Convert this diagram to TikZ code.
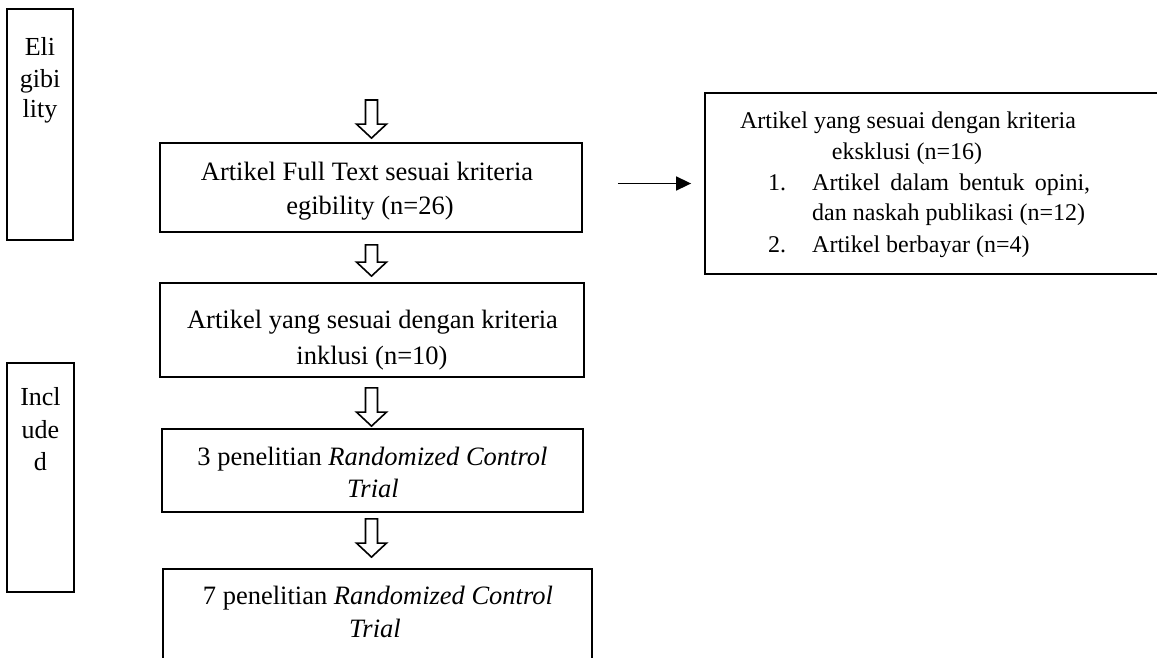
\documentclass[tikz,border=0pt]{standalone}
\usepackage{fontspec}
\setmainfont{Liberation Serif}
\usetikzlibrary{calc,arrows.meta}
\newcommand{\hollowarrow}[2]{%
  \path[harrow] let \p1=#1, \p2=#2 in
    (\x2-6pt,\y1) -- (\x2+6pt,\y1) -- (\x2+6pt,\y2+14pt) -- (\x2+15pt,\y2+14pt)
    -- (\x2,\y2) -- (\x2-15pt,\y2+14pt) -- (\x2-6pt,\y2+14pt) -- cycle;}
\begin{document}
\begin{tikzpicture}[x=1pt,y=-1pt,
  box/.style={draw=black, line width=1.8pt, inner sep=0pt, rectangle},
  sidebox/.style={draw=black, line width=2pt, inner sep=0pt, rectangle},
  txt/.style={inner sep=0pt, anchor=base, font=\fontsize{26.5}{31}\selectfont},
  ltxt/.style={inner sep=0pt, anchor=base, font=\fontsize{26}{31}\selectfont},
  rtxt/.style={inner sep=0pt, font=\fontsize{24}{31}\selectfont},
  harrow/.style={draw=black, line width=1.6pt, fill=white, line join=miter},
  conn/.style={draw=black, line width=1.6pt, -{Triangle[length=15pt,width=14pt]}}]
\useasboundingbox (0,0) rectangle (1157,657);
\fill[white] (0,0) rectangle (1157,657);
\begin{scope}
\clip (0,0) rectangle (1157,657);
% side boxes
\node[sidebox, minimum width=66, minimum height=231] (L1) at (40,124.5) {};
\node[ltxt] (L1a) at (40,55) {Eli};
\node[ltxt] (L1b) at (40,87) {gibi};
\node[ltxt] (L1c) at (40,117) {lity};
\node[sidebox, minimum width=67, minimum height=229] (L2) at (40.5,477.5) {};
\node[ltxt] (L2a) at (40.5,405) {Incl};
\node[ltxt] (L2b) at (40.5,438) {ude};
\node[ltxt] (L2c) at (40.5,470) {d};
% main boxes
\node[box, minimum width=422, minimum height=89] (A) at (371,187.5) {};
\node[txt] (A1) at (367,180) {Artikel Full Text sesuai kriteria};
\node[txt] (A2) at (370,214) {egibility (n=26)};
\node[box, minimum width=424, minimum height=94] (B) at (372,330) {};
\node[txt] (B1) at (372.5,328) {Artikel yang sesuai dengan kriteria};
\node[txt] (B2) at (372,364) {inklusi (n=10)};
\node[box, minimum width=421, minimum height=83] (C) at (372.5,470.5) {};
\node[txt] (C1) at (372.5,465) {3 penelitian \textit{Randomized Control}};
\node[txt] (C2) at (373,497) {\textit{Trial}};
\node[box, minimum width=429, minimum height=160] (D) at (377.5,649) {};
\node[txt] (D1) at (378,604) {7 penelitian \textit{Randomized Control}};
\node[txt] (D2) at (375,637) {\textit{Trial}};
% right box
\node[box, minimum width=470, minimum height=181] (R) at (940,183.5) {};
\node[rtxt, anchor=base] (R1) at (908,128) {Artikel yang sesuai dengan kriteria};
\node[rtxt, anchor=base] (R2) at (907,159) {eksklusi (n=16)};
\node[rtxt, anchor=base west] (R3n) at (768,190) {1.};
\node[rtxt, anchor=base west] (R3) at (812,190) {\makebox[278pt][s]{Artikel dalam bentuk opini,}};
\node[rtxt, anchor=base west] (R4) at (812,220) {dan naskah publikasi (n=12)};
\node[rtxt, anchor=base west] (R5n) at (768,252) {2.};
\node[rtxt, anchor=base west] (R5) at (812,252) {Artikel berbayar (n=4)};
% connectors
\coordinate (s0) at (371.5,100);
\hollowarrow{(s0)}{($(A.north)+(0.5,-4)$)}
\hollowarrow{($(A.south)+(0.5,12)$)}{($(B.north)+(-0.5,-6)$)}
\hollowarrow{($(B.south)+(-0.5,10)$)}{($(C.north)+(-1,-2)$)}
\hollowarrow{($(C.south)+(-1,6)$)}{($(D.north)+(-6,-11)$)}
\draw[conn, shorten <=35pt, shorten >=13pt] (A.east |- R.west) -- (R.west);
\end{scope}
\end{tikzpicture}
\end{document}
